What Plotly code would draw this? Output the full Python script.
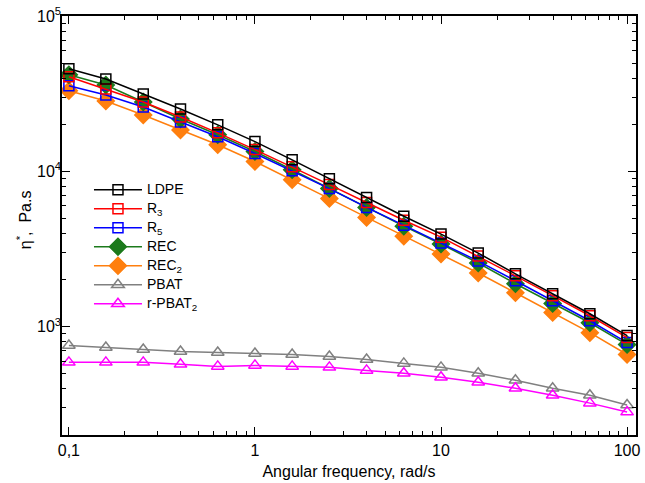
import plotly.graph_objects as go

freq = [0.1, 0.158, 0.251, 0.398, 0.631, 1.0, 1.585, 2.512, 3.981, 6.31, 10.0, 15.85, 25.12, 39.81, 63.1, 100.0]

ldpe = [46000, 39500, 31600, 25300, 20000, 15600, 11900, 9000, 6800, 5150, 3950, 2980, 2190, 1630, 1210, 875]
r3 = [40850, 34090, 28060, 22470, 17760, 13850, 10730, 8235, 6317, 4851, 3776, 2849, 2126, 1583, 1175, 850]
r5 = [35740, 31170, 26070, 20870, 16760, 13070, 10120, 7767, 5868, 4506, 3456, 2646, 1975, 1470, 1091, 789]
rec = [42090, 36140, 28060, 21830, 17260, 13460, 10270, 7767, 5868, 4444, 3409, 2572, 1890, 1407, 1059, 766]
rec2 = [33210, 28520, 23160, 18540, 14880, 11610, 8854, 6696, 5059, 3832, 2939, 2217, 1653, 1231, 914, 661]
pbat = [755, 733, 712, 691, 681, 671, 661, 642, 614, 579, 546, 500, 451, 400, 361, 312]
rpbat2 = [588, 588, 588, 571, 554, 562, 554, 546, 522, 500, 471, 438, 400, 361, 321, 281]

x_tickvals = [0.1, 1, 10, 100]
x_ticktext = ["0,1", "1", "10", "100"]
y_tickvals = [1e3, 1e4, 1e5]
y_ticktext = ["10<sup>3</sup>", "10<sup>4</sup>", "10<sup>5</sup>"]
x_minor = [m * d for d in (0.1, 1, 10) for m in range(2, 10)]
y_minor = [m * d for d in (100, 1000, 10000) for m in range(2, 10)]

LEG = "<span style='font-size:14px'>%s</span>"

series = [
    # name, data, color, symbol, size, rank
    ("REC<sub>2</sub>", rec2, "#ff7f0e", "diamond", 13, 5),
    ("REC", rec, "#1c7a1c", "diamond", 13, 4),
    ("R<sub>5</sub>", r5, "#0000ff", "square-open", 10, 3),
    ("R<sub>3</sub>", r3, "#ff0000", "square-open", 10, 2),
    ("LDPE", ldpe, "#000000", "square-open", 10, 1),
    ("PBAT", pbat, "#808080", "triangle-up-open", 11, 6),
    ("r-PBAT<sub>2</sub>", rpbat2, "#ff00ff", "triangle-up-open", 11, 7),
]

fig = go.Figure()
for name, data, color, sym, size, rank in series:
    fig.add_trace(go.Scatter(
        x=freq, y=data, name=LEG % name, mode="lines+markers",
        line=dict(color=color, width=1.5),
        marker=dict(symbol=sym, size=size, color=color, line=dict(color=color, width=1.5)),
        legendrank=rank,
    ))

axis_common = dict(
    type="log", showgrid=False, zeroline=False,
    showline=True, linecolor="black", linewidth=1.5, mirror="allticks",
    ticks="inside", ticklen=8, tickwidth=1.2, tickcolor="black",
    ticklabeloverflow="allow",
    tickfont=dict(family="Liberation Sans, Arial", size=16, color="black"),
)

fig.update_layout(
    width=645, height=483,
    margin=dict(l=62, r=5, t=14, b=48),
    paper_bgcolor="white", plot_bgcolor="white",
    font=dict(family="Liberation Sans, Arial", color="black"),
    legend=dict(x=0.047, y=0.620, xanchor="left", yanchor="top",
                font=dict(size=10, family="Liberation Sans, Arial"),
                bgcolor="rgba(0,0,0,0)", tracegroupgap=0, itemwidth=48),
    xaxis=dict(axis_common, range=[-1.037, 2.048], tickvals=x_tickvals, ticktext=x_ticktext,
               minor=dict(tickmode="array", tickvals=x_minor, ticks="inside", ticklen=4,
                          tickwidth=1, tickcolor="black", showgrid=False),
               title=dict(text="Angular frequency, rad/s", font=dict(size=16), standoff=8)),
    yaxis=dict(axis_common, range=[2.301, 5.003], tickvals=y_tickvals, ticktext=y_ticktext,
               ticklabelstandoff=-4,
               minor=dict(tickmode="array", tickvals=y_minor, ticks="inside", ticklen=4,
                          tickwidth=1, tickcolor="black", showgrid=False)),
    annotations=[dict(text="η<sup>*</sup>,  Pa.s", textangle=-90, xref="paper", yref="paper",
                      x=-0.066, y=0.513, xanchor="center", yanchor="middle", showarrow=False,
                      font=dict(size=16, family="Liberation Sans, Arial", color="black"))],
)

fig.write_html("out.html", config={"displayModeBar": False},
               post_script="document.body.style.margin='0';")
